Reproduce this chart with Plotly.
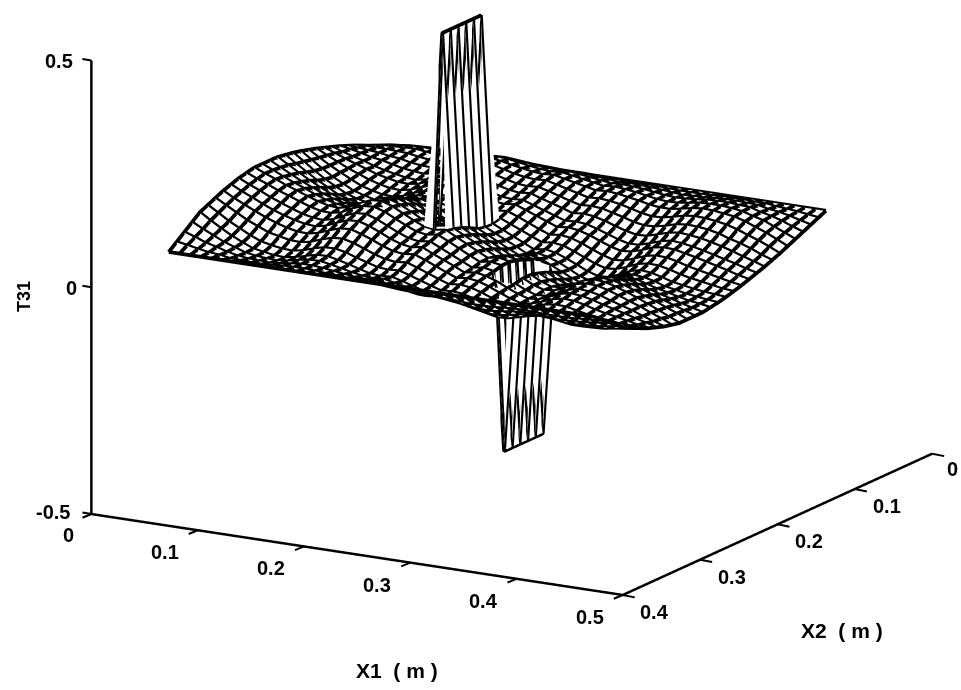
import numpy as np
import plotly.graph_objects as go

# grid of the mesh, metres
X1_GRID = np.linspace(0, 0.40, 41)
X2_GRID = np.linspace(0, 0.30, 31)

# T31, in thousandths, one row per X2 grid line
T31_MILLI = [
    [0]*41,
    [8,9,10,12,12,13,13,12,12,12,13,14,14,14,13,12,11,11,11,10,9,8,7,7,7,6,5,4,4,4,5,6,6,6,5,5,2,0,-2,-5,-8],
    [16,18,22,23,24,25,24,23,23,24,26,27,28,26,24,22,21,20,21,19,17,15,13,14,13,12,10,8,6,7,8,10,11,11,10,9,4,1,-4,-10,-16],
    [24,28,31,34,35,36,35,33,33,34,37,39,40,38,35,32,30,29,30,27,24,21,18,19,18,16,13,10,8,9,11,14,15,15,13,12,5,0,-7,-16,-24],
    [32,36,40,42,44,45,42,40,40,41,45,48,49,47,43,39,36,34,36,32,28,24,20,22,20,17,13,9,7,8,11,15,16,16,14,11,4,-2,-12,-22,-32],
    [40,43,46,47,48,49,46,43,42,45,50,54,54,51,46,42,38,36,38,33,28,23,18,20,18,14,10,5,2,2,6,11,14,13,10,7,0,-9,-18,-29,-40],
    [48,49,49,49,48,47,43,40,39,42,48,53,54,50,44,38,34,32,34,28,22,16,10,12,10,6,0,-6,-10,-9,-4,2,5,4,1,-3,-10,-19,-27,-37,-48],
    [55,53,51,49,45,43,38,35,34,37,44,49,50,46,39,33,27,25,27,21,14,7,1,3,1,-5,-11,-18,-22,-21,-16,-9,-6,-7,-10,-15,-23,-29,-37,-47,-55],
    [62,58,53,47,44,38,33,30,28,32,39,46,47,42,35,27,21,18,21,13,6,-1,-9,-6,-9,-15,-23,-30,-35,-34,-27,-20,-16,-18,-21,-26,-32,-39,-47,-54,-62],
    [68,60,53,47,39,33,28,24,22,27,35,42,43,37,29,21,14,12,14,6,-2,-10,-18,-16,-18,-25,-33,-41,-47,-46,-39,-31,-26,-28,-32,-37,-43,-49,-55,-62,-68],
    [74,65,56,48,40,32,27,22,21,25,34,41,43,37,28,19,12,9,12,3,-6,-15,-24,-21,-24,-31,-40,-49,-55,-53,-46,-37,-33,-34,-39,-44,-50,-56,-62,-69,-74],
    [80,68,57,46,37,28,21,16,15,20,29,37,39,32,23,13,5,2,5,-4,-14,-24,-33,-30,-33,-41,-51,-60,-67,-65,-57,-48,-43,-44,-49,-56,-61,-66,-71,-76,-80],
    [85,71,57,45,33,22,15,10,9,14,24,32,34,27,17,7,-2,-5,-2,-12,-22,-32,-42,-39,-42,-51,-61,-71,-78,-76,-68,-58,-53,-54,-59,-66,-71,-75,-79,-83,-85],
    [90,74,58,43,31,19,12,6,4,10,21,30,31,24,13,3,-6,450,-6,-17,-28,-39,-50,-46,-50,-59,-69,-80,-87,-86,-77,-66,-60,-62,-68,-75,-79,-83,-86,-88,-90],
    [94,78,61,46,33,21,13,8,6,11,23,32,34,27,15,4,-5,450,-5,-17,-28,-39,-51,-47,-51,-60,-71,-83,-90,-88,-79,-67,-62,-64,-69,-77,-81,-86,-89,-92,-94],
    [97,81,66,51,39,26,19,13,11,17,28,38,40,32,21,9,-1,450,-1,-12,-24,-36,-47,-43,-47,-58,-69,-80,-88,-86,-76,-65,-59,-61,-67,-74,-79,-85,-90,-93,-97],
    [100,86,72,59,47,36,28,22,20,26,38,48,50,42,30,18,8,450,8,-4,-16,-28,-40,-36,-40,-420,-62,-74,-82,-80,-70,-58,-52,-54,-60,-68,-75,-81,-88,-94,-100],
    [100,88,76,64,54,44,36,30,28,34,46,56,58,50,38,26,16,450,16,4,-8,-20,-32,-28,-32,-420,-54,-66,-74,-72,-62,-50,-44,-46,-52,-60,-68,-76,-84,-92,-100],
    [100,90,79,69,60,50,42,36,34,40,52,62,64,56,44,32,22,450,22,10,-2,-14,-26,-22,-26,-420,-48,-60,-68,-66,-56,-44,-38,-40,-46,-54,-63,-71,-81,-90,-100],
    [100,90,81,71,63,54,46,40,38,44,56,66,68,60,48,36,26,22,26,14,2,-10,-22,-18,-22,-420,-44,-56,-64,-62,-52,-40,-34,-36,-42,-50,-59,-69,-79,-90,-100],
    [96,86,77,67,59,50,42,36,35,40,52,61,63,56,44,33,23,19,23,12,0,-12,-23,-19,-23,-420,-44,-56,-63,-61,-52,-40,-35,-36,-42,-50,-59,-67,-77,-86,-96],
    [92,81,71,60,51,42,34,29,27,33,44,53,55,47,36,25,16,12,16,5,-6,-17,-28,-24,-28,-420,-48,-59,-67,-65,-56,-45,-39,-41,-46,-54,-61,-68,-77,-85,-92],
    [86,74,64,53,43,35,28,23,21,26,36,45,47,40,30,19,11,7,11,0,-10,-20,-31,-27,-31,-39,-50,-60,-67,-65,-56,-46,-41,-43,-48,-55,-61,-67,-74,-80,-86],
    [80,67,56,45,35,26,19,14,13,18,27,35,37,30,21,11,3,0,3,-6,-16,-26,-35,-32,-35,-43,-53,-62,-69,-67,-59,-50,-45,-46,-51,-58,-63,-67,-72,-77,-80],
    [72,59,46,33,23,13,8,3,2,6,15,22,24,18,9,0,-7,-10,-7,-15,-24,-33,-41,-38,-41,-48,-57,-66,-72,-70,-63,-54,-50,-51,-56,-61,-65,-67,-70,-71,-72],
    [64,50,35,23,11,1,-4,-8,-9,-5,3,9,10,5,-3,-10,-17,-19,-17,-24,-32,-40,-47,-45,-47,-54,-61,-69,-74,-73,-67,-59,-55,-56,-60,-65,-67,-67,-67,-66,-64],
    [56,41,27,14,3,-7,-11,-15,-16,-12,-6,0,1,-4,-10,-17,-23,-25,-23,-29,-36,-43,-49,-47,-49,-55,-62,-68,-73,-72,-66,-60,-56,-57,-61,-65,-65,-64,-63,-59,-56],
    [42,30,19,8,0,-8,-12,-14,-15,-12,-7,-3,-2,-6,-11,-16,-20,-22,-20,-25,-30,-35,-40,-38,-40,-44,-49,-54,-58,-57,-53,-48,-45,-46,-48,-52,-52,-50,-49,-46,-42],
    [28,20,11,5,-2,-7,-10,-11,-12,-10,-7,-4,-4,-6,-9,-12,-15,-16,-15,-19,-22,-25,-29,-28,-29,-32,-35,-38,-40,-40,-37,-34,-32,-33,-34,-37,-36,-35,-33,-30,-28],
    [14,10,5,1,-1,-5,-6,-7,-7,-6,-4,-3,-3,-4,-6,-7,-9,-9,-9,-10,-12,-14,-15,-15,-15,-17,-18,-20,-21,-21,-20,-18,-17,-17,-18,-19,-19,-19,-17,-16,-14],
    [0]*41,
]

X1_TICKS = [0, 0.1, 0.2, 0.3, 0.4, 0.5]
X2_TICKS = [0, 0.1, 0.2, 0.3, 0.4]
T31_TICKS = [-0.5, 0, 0.5]

t31 = np.array(T31_MILLI) / 1000

label_font = dict(family="Liberation Sans", size=20, color="black", weight="bold")

fig = go.Figure()

# white sheet that does the hidden line removal, set back a little so the
# wires in front of it do not fight with it in the depth buffer
gx, gy = np.meshgrid(X1_GRID, X2_GRID)
ny, nx = gx.shape
corner = (np.arange(ny - 1)[:, None] * nx + np.arange(nx - 1)[None, :]).ravel()
fig.add_trace(go.Mesh3d(
    x=gx.ravel() - 0.0002, y=gy.ravel() - 0.00027, z=t31.ravel() - 0.00028,
    i=np.r_[corner, corner + 1],
    j=np.r_[corner + 1, corner + nx + 1],
    k=np.r_[corner + nx + 1, corner + nx],
    color="white", flatshading=True, hoverinfo="skip",
    lighting=dict(ambient=1, diffuse=0, specular=0, roughness=1, fresnel=0),
))

# the wires, one trace per direction, nan between the lines
wx = np.c_[gx, np.full(ny, np.nan)].ravel()
wy = np.c_[gy, np.full(ny, np.nan)].ravel()
wz = np.c_[t31, np.full(ny, np.nan)].ravel()
fig.add_trace(go.Scatter3d(x=wx, y=wy, z=wz, mode="lines", hoverinfo="skip",
                           line=dict(color="black", width=7.5)))
wx = np.r_[gx, np.full((1, nx), np.nan)].T.ravel()
wy = np.r_[gy, np.full((1, nx), np.nan)].T.ravel()
wz = np.r_[t31, np.full((1, nx), np.nan)].T.ravel()
fig.add_trace(go.Scatter3d(x=wx, y=wy, z=wz, mode="lines", hoverinfo="skip",
                           line=dict(color="black", width=7.5)))

# the three axis lines
for xs, ys, zs in [([0, 0.5], [0.4, 0.4], [-0.5, -0.5]),
                   ([0.5, 0.5], [0.4, 0], [-0.5, -0.5]),
                   ([0, 0], [0.4, 0.4], [-0.5, 0.5])]:
    fig.add_trace(go.Scatter3d(x=xs, y=ys, z=zs, mode="lines", hoverinfo="skip",
                               line=dict(color="black", width=5)))


def blank_axis(rng):
    return dict(title=dict(text=""), range=rng, showticklabels=False, ticks="",
                showgrid=False, zeroline=False, showbackground=False, showspikes=False,
                showline=False)


# tick strokes and tick labels, hung on the data positions of the ticks
scene_notes = []


def tick(x, y, z, text, stroke, shift):
    scene_notes.append(dict(x=x, y=y, z=z, text=" ", showarrow=True, arrowhead=0, arrowwidth=2,
                            arrowcolor="black", ax=stroke[0], ay=stroke[1], standoff=0))
    scene_notes.append(dict(x=x, y=y, z=z, text=text, showarrow=False, font=label_font,
                            xshift=shift[0], yshift=-shift[1]))


for t in X1_TICKS:
    tick(t, 0.4, -0.5, str(t), (-12, 5), (-23, 21) if t == 0 else (-33, 22))
for t in X2_TICKS:
    tick(0.5, t, -0.5, str(t), (15, 3), (20, 15) if t == 0 else (32, 17))
for t, shift in zip(T31_TICKS, [(-38, -2), (-20, 1), (-32, 0)]):
    tick(0, 0.4, t, str(t), (-12, -2), shift)


def axis_title(text, px, py, angle=0, size=21):
    fig.add_annotation(text=text, xref="paper", yref="paper", x=px / 961, y=1 - py / 690,
                       xanchor="center", yanchor="middle",
                       showarrow=False, font=dict(label_font, size=size), textangle=angle)


axis_title("X1  ( m )", 397, 670)
axis_title("X2  ( m )", 842, 630)
axis_title("T31", 24, 297, -90, 18)

fig.update_layout(
    width=961, height=690,
    margin=dict(l=0, r=0, t=0, b=0),
    paper_bgcolor="white",
    showlegend=False,
    scene=dict(
        domain=dict(x=[0, 1], y=[0, 1]),
        # ranges a hair wider than the ticks so the axis lines are not clipped in half
        xaxis=blank_axis([-0.003, 0.503]),
        yaxis=blank_axis([0.403, -0.003]),
        zaxis=blank_axis([-0.503, 0.503]),
        aspectmode="manual",
        aspectratio=dict(x=1.80, y=1.82, z=1.371),
        camera=dict(
            projection=dict(type="orthographic"),
            eye=dict(x=0.4905, y=-1.0307, z=0.047),
            center=dict(x=-0.0455, y=-0.1027, z=-0.246),
            up=dict(x=0, y=0, z=1),
        ),
        annotations=scene_notes,
    ),
)

# the default body margin would push the 961x690 figure out of the window
fig.write_html("out.html", config={"displayModeBar": False},
               post_script="document.body.style.margin = '0';")
